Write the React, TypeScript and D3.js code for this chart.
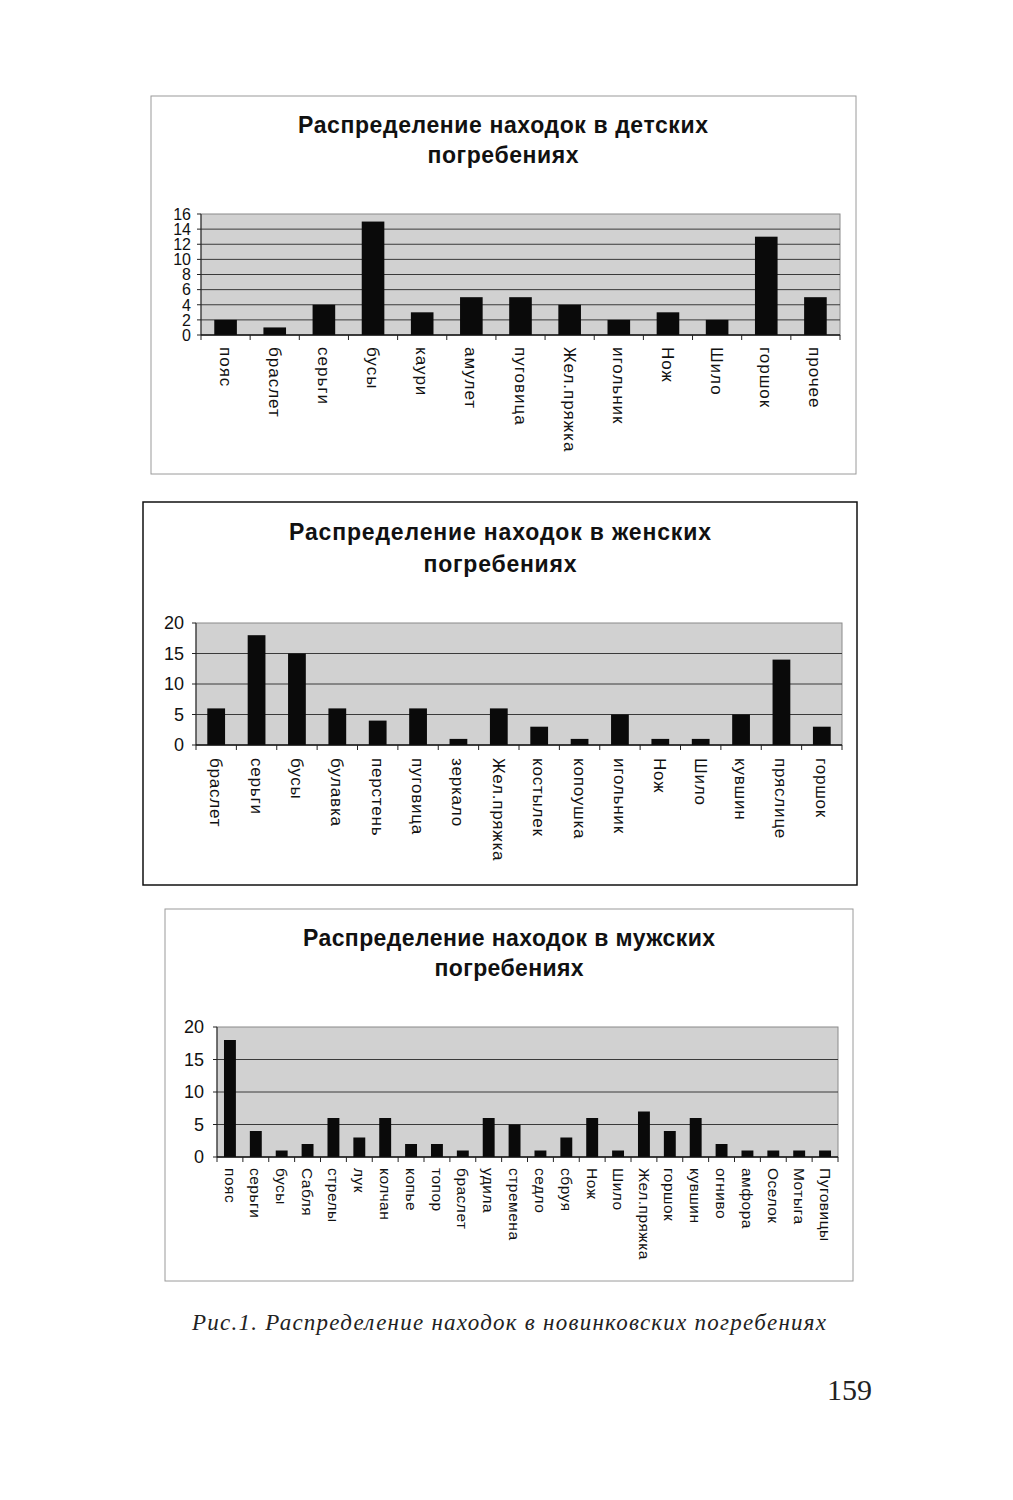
import React from "react";
import * as d3 from "d3";

const kidsCats = ["пояс","браслет","серьги","бусы","каури","амулет","пуговица","Жел.пряжка","игольник","Нож","Шило","горшок","прочее"];
const kidsVals = [2,1,4,15,3,5,5,4,2,3,2,13,5];
const kidsTicks = [0,2,4,6,8,10,12,14,16];

const womenCats = ["браслет","серьги","бусы","булавка","перстень","пуговица","зеркало","Жел.пряжка","костылек","копоушка","игольник","Нож","Шило","кувшин","пряслице","горшок"];
const womenVals = [6,18,15,6,4,6,1,6,3,1,5,1,1,5,14,3];
const womenTicks = [0,5,10,15,20];

const menCats = ["пояс","серьги","бусы","Сабля","стрелы","лук","колчан","копье","топор","браслет","удила","стремена","седло","сбруя","Нож","Шило","Жел.пряжка","горшок","кувшин","огниво","амфора","Оселок","Мотыга","Пуговицы"];
const menVals = [18,4,1,2,6,3,6,2,2,1,6,5,1,3,6,1,7,4,6,2,1,1,1,1];
const menTicks = [0,5,10,15,20];

const titles = [
  ["Распределение находок в детских", "погребениях"],
  ["Распределение находок в женских", "погребениях"],
  ["Распределение находок в мужских", "погребениях"],
];
const caption = "Рис.1. Распределение находок в новинковских погребениях";
const pageNo = "159";

type Props = {
  cats: string[]; vals: number[]; ticks: number[];
  box: { x: number; y: number; w: number; h: number; stroke: string; sw: number };
  plot: { l: number; r: number; t: number; b: number };
  title: string[]; titleX: number; titleY: number[]; titleLen: number[]; titleSize: number;
  tickSize: number; tickRight: number; labelSize: number; labelSpacing: number; labelTop: number;
  barPad: number; grid: number[];
};

function Chart(p: Props) {
  const x = d3.scaleBand<string>().domain(p.cats).range([p.plot.l, p.plot.r]).paddingInner(p.barPad).paddingOuter(p.barPad / 2);
  const y = d3.scaleLinear().domain([0, p.ticks[p.ticks.length - 1]]).range([p.plot.b, p.plot.t]);
  const step = x.step();
  const font = "'Liberation Sans', Arial, sans-serif";
  return (
    <g>
      <rect x={p.box.x} y={p.box.y} width={p.box.w} height={p.box.h} fill="#fff" stroke={p.box.stroke} strokeWidth={p.box.sw} />
      {p.title.map((t, i) => (
        <text key={i} x={p.titleX - p.titleLen[i] / 2} y={p.titleY[i]} textLength={p.titleLen[i]} lengthAdjust="spacing" fontFamily={font} fontWeight="bold" fontSize={p.titleSize} fill="#111">{t}</text>
      ))}
      <rect x={p.plot.l} y={p.plot.t} width={p.plot.r - p.plot.l} height={p.plot.b - p.plot.t} fill="#d1d1d1" stroke="#8a8a8a" strokeWidth={1} />
      {p.grid.map((g) => (
        <line key={g} x1={p.plot.l} x2={p.plot.r} y1={y(g)} y2={y(g)} stroke="#3a3a3a" strokeWidth={1} />
      ))}
      {p.cats.map((c, i) => (
        <rect key={c} x={x(c)} y={y(p.vals[i])} width={x.bandwidth()} height={y(0) - y(p.vals[i])} fill="#0a0a0a" />
      ))}
      <line x1={p.plot.l} x2={p.plot.l} y1={p.plot.t} y2={p.plot.b} stroke="#222" strokeWidth={1} />
      <line x1={p.plot.l} x2={p.plot.r} y1={p.plot.b} y2={p.plot.b} stroke="#111" strokeWidth={1.5} />
      {p.ticks.map((t) => (
        <g key={t}>
          <line x1={p.plot.l - 4} x2={p.plot.l} y1={y(t)} y2={y(t)} stroke="#222" />
          <text x={p.tickRight} y={y(t)} dy="0.36em" textAnchor="end" fontFamily={font} fontSize={p.tickSize} fill="#111">{t}</text>
        </g>
      ))}
      {d3.range(p.cats.length + 1).map((i) => (
        <line key={i} x1={p.plot.l + i * step} x2={p.plot.l + i * step} y1={p.plot.b} y2={p.plot.b + 5} stroke="#222" />
      ))}
      {p.cats.map((c) => (
        <text key={c} transform={`translate(${(x(c) as number) + x.bandwidth() / 2},${p.labelTop}) rotate(90)`} dy="0.35em" textAnchor="start" fontFamily={font} fontSize={p.labelSize} letterSpacing={p.labelSpacing} fill="#111">{c}</text>
      ))}
    </g>
  );
}

export default function App() {
  return (
    <svg width={1013} height={1500} style={{ position: "absolute", left: 0, top: 0, background: "#fff" }}>
      <rect width={1013} height={1500} fill="#fff" />
      <Chart cats={kidsCats} vals={kidsVals} ticks={kidsTicks}
        box={{ x: 151, y: 96, w: 705, h: 378, stroke: "#9a9a9a", sw: 1 }}
        plot={{ l: 201, r: 840, t: 214, b: 335 }}
        title={titles[0]} titleX={503} titleY={[133, 163]} titleLen={[410, 151]} titleSize={23}
        tickSize={16} tickRight={191} labelSize={17} labelSpacing={1} labelTop={347} barPad={0.54} grid={[2,4,6,8,10,12,14]} />
      <Chart cats={womenCats} vals={womenVals} ticks={womenTicks}
        box={{ x: 143, y: 502, w: 714, h: 383, stroke: "#111", sw: 1.5 }}
        plot={{ l: 196, r: 842, t: 623, b: 745 }}
        title={titles[1]} titleX={500} titleY={[540, 572]} titleLen={[422, 153]} titleSize={23}
        tickSize={18} tickRight={184} labelSize={17} labelSpacing={0.8} labelTop={758} barPad={0.56} grid={[5,10,15]} />
      <Chart cats={menCats} vals={menVals} ticks={menTicks}
        box={{ x: 165, y: 909, w: 688, h: 372, stroke: "#9a9a9a", sw: 1 }}
        plot={{ l: 217, r: 838, t: 1027, b: 1157 }}
        title={titles[2]} titleX={509} titleY={[946, 976]} titleLen={[412, 149]} titleSize={23}
        tickSize={18} tickRight={204} labelSize={15.5} labelSpacing={0.5} labelTop={1168} barPad={0.54} grid={[5,10,15]} />
      <text x={192} y={1330} textLength={634} lengthAdjust="spacing" fontFamily="'Liberation Serif', 'Times New Roman', serif" fontStyle="italic" fontSize={23} fill="#222">{caption}</text>
      <text x={872} y={1400} textAnchor="end" fontFamily="'Liberation Serif', 'Times New Roman', serif" fontSize={30} fill="#222">{pageNo}</text>
    </svg>
  );
}
